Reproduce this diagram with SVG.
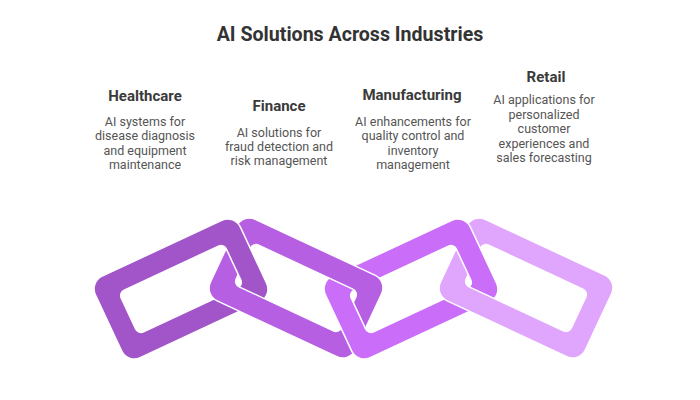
<svg xmlns="http://www.w3.org/2000/svg" width="700" height="400" viewBox="0 0 700 400">
<defs>
<style>
.title{font-family:Roboto,"Liberation Sans",sans-serif;font-weight:700;font-size:19.6px;fill:#333333;text-anchor:middle}
.head{font-family:Roboto,"Liberation Sans",sans-serif;font-weight:700;font-size:15px;fill:#3a3a3a;text-anchor:middle}
.desc{font-family:Roboto,"Liberation Sans",sans-serif;font-size:12.5px;fill:#555555;text-anchor:middle}
.link{fill-rule:evenodd;stroke:#ffffff;stroke-width:1.5}
</style>
<path id="linkShape" class="link" d="M -66 -45 H 66 A 14 14 0 0 1 80 -31 V 31 A 14 14 0 0 1 66 45 H -66 A 14 14 0 0 1 -80 31 V -31 A 14 14 0 0 1 -66 -45 Z M -52 -23 H 52 A 6 6 0 0 1 58 -17 V 17 A 6 6 0 0 1 52 23 H -52 A 6 6 0 0 1 -58 17 V -17 A 6 6 0 0 1 -52 -23 Z"/>
<clipPath id="x12"><polygon points="238,212 254,248 238,280 222,248"/></clipPath>
<clipPath id="x23"><polygon points="353,298 370,328 374,366 332,366 336,328"/></clipPath>
<clipPath id="x34"><polygon points="468,212 484,248 468,280 452,248"/></clipPath>
</defs>
<rect width="700" height="400" fill="#ffffff"/>
<text class="title" x="350" y="41">AI Solutions Across Industries</text>
<g id="connectors">
<use href="#linkShape" fill="#A155C9" transform="translate(181,289) rotate(-25)"/>
<use href="#linkShape" fill="#CA6DF9" transform="translate(411,289) rotate(-25)"/>
<use href="#linkShape" fill="#B65FE2" transform="translate(296,288) rotate(25)"/>
<use href="#linkShape" fill="#E0A5FC" transform="translate(526,288) rotate(25)"/>
<g clip-path="url(#x12)"><use href="#linkShape" fill="#A155C9" transform="translate(181,289) rotate(-25)"/></g>
<g clip-path="url(#x23)"><use href="#linkShape" fill="#CA6DF9" transform="translate(411,289) rotate(-25)"/></g>
<g clip-path="url(#x34)"><use href="#linkShape" fill="#CA6DF9" transform="translate(411,289) rotate(-25)"/></g>
</g>
<g id="healthcare">
<text class="head" x="145" y="101">Healthcare</text>
<text class="desc" x="145" y="126">AI systems for</text>
<text class="desc" x="145" y="140">disease diagnosis</text>
<text class="desc" x="145" y="154.5">and equipment</text>
<text class="desc" x="145" y="168.5">maintenance</text>
</g>
<g id="finance">
<text class="head" x="279" y="111">Finance</text>
<text class="desc" x="279" y="137">AI solutions for</text>
<text class="desc" x="279" y="151">fraud detection and</text>
<text class="desc" x="279" y="165">risk management</text>
</g>
<g id="manufacturing">
<text class="head" x="412" y="100">Manufacturing</text>
<text class="desc" x="413" y="126">AI enhancements for</text>
<text class="desc" x="413" y="140">quality control and</text>
<text class="desc" x="413" y="154.5">inventory</text>
<text class="desc" x="413" y="168.5">management</text>
</g>
<g id="retail">
<text class="head" x="546" y="82">Retail</text>
<text class="desc" x="544" y="104">AI applications for</text>
<text class="desc" x="544" y="118.5">personalized</text>
<text class="desc" x="544" y="133">customer</text>
<text class="desc" x="544" y="147.5">experiences and</text>
<text class="desc" x="544" y="162">sales forecasting</text>
</g>
</svg>
